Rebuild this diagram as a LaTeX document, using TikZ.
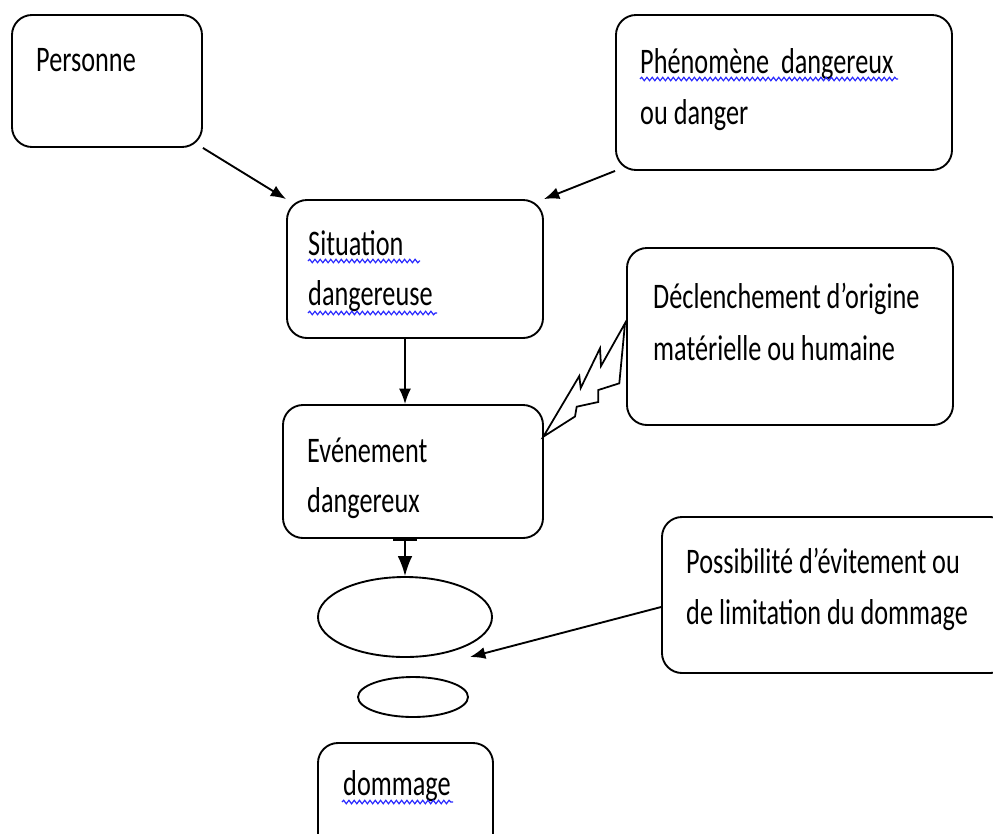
\documentclass[tikz,border=0pt]{standalone}
\usepackage{fontspec}
\newfontfamily\calfont[FakeStretch=0.73]{Carlito}
\usetikzlibrary{arrows.meta,shapes.geometric,decorations.pathmorphing,calc}
\definecolor{spell}{RGB}{40,40,255}
\tikzset{
  box/.style={draw, line width=1.6pt, rounded corners=0.6cm, inner sep=0pt},
  oval/.style={draw, ellipse, line width=1.6pt, inner sep=0pt},
  txt/.style={anchor=base west, inner sep=0pt, font=\calfont\fontsize{30.7}{44}\selectfont},
  arr/.style={line width=1.6pt, -{Latex[length=0.46cm,width=0.36cm]}},
  squig/.style={draw=spell, line width=1pt, decorate, decoration={snake, amplitude=1.5pt, segment length=4.5pt}},
}
\begin{document}
\begin{tikzpicture}[x=0.03cm,y=-0.03cm]
\useasboundingbox (0,0) rectangle (993,833);
\clip (0,0) rectangle (993,833);
\fill[white] (0,0) rectangle (993,833);
% boxes
\node[box, minimum width=5.7cm, minimum height=3.96cm] (pers) at (107,81) {};
\node[box, minimum width=10.08cm, minimum height=4.65cm] (phen) at (784,92.5) {};
\node[box, minimum width=7.68cm, minimum height=4.14cm] (sit) at (415,269) {};
\node[box, minimum width=9.78cm, minimum height=5.31cm] (decl) at (790,336.5) {};
\node[box, minimum width=7.8cm, minimum height=3.99cm] (even) at (413,471.5) {};
\node[box, minimum width=10.44cm, minimum height=4.68cm] (poss) at (836,595) {};
\node[box, minimum width=5.25cm, minimum height=3.51cm] (dom) at (405.5,801.5) {};
% ellipses
\node[oval, minimum width=5.22cm, minimum height=2.4cm] (big) at (405,617) {};
\node[oval, minimum width=3.3cm, minimum height=1.2cm] (small) at (413,697) {};
% texts
\node[txt] (tpers) at (36,71) {Personne};
\node[txt] (tphen1) at (640,73) {Phénomène\ \ dangereux};
\node[txt] (tphen2) at (640,124) {ou danger};
\node[txt] (tsit1) at (308,255) {Situation};
\node[txt] (tsit2) at (308,305) {dangereuse};
\node[txt] (tdecl1) at (653,308) {Déclenchement d’origine};
\node[txt] (tdecl2) at (653,360) {matérielle ou humaine};
\node[txt] (teven1) at (307,462) {Evénement};
\node[txt] (teven2) at (307,512) {dangereux};
\node[txt] (tposs1) at (686,573) {Possibilité d’évitement ou};
\node[txt] (tposs2) at (686,624) {de limitation du dommage};
\node[txt] (tdom) at (343,795) {dommage};
% spelling squiggles
\draw[squig] (640,79) -- (898,79);
\draw[squig] (308,261) -- (420,261);
\draw[squig] (308,313) -- (437,313);
\draw[squig] (342,802) -- (453,802);
% connectors
\draw[arr] (pers.south east) -- (sit.north west);
\draw[arr] (phen.south west) -- (sit.north east);
\draw[arr] (sit.south -| big.center) -- (even.north -| big.center);
\draw[line width=1.6pt, {Bar[width=0.72cm]}-{Latex[length=0.6cm,width=0.44cm]}] (even.south -| big.center) -- (big.north);
\coordinate (possout) at ($(poss.west)+(0,12)$);
\coordinate (bigin) at (470,657);
\draw[arr] (possout) -- (bigin);
% lightning bolt
\draw[line width=1.5pt, line join=miter] (543.3,436.7) -- (579.3,376) -- (580.7,388) -- (600,348.3) -- (601,366) -- (625,323.3)
  -- (619.3,383.3) -- (598.3,390) -- (598.3,402) -- (576.7,406.7) -- (575,416.5) -- cycle;
\end{tikzpicture}
\end{document}
